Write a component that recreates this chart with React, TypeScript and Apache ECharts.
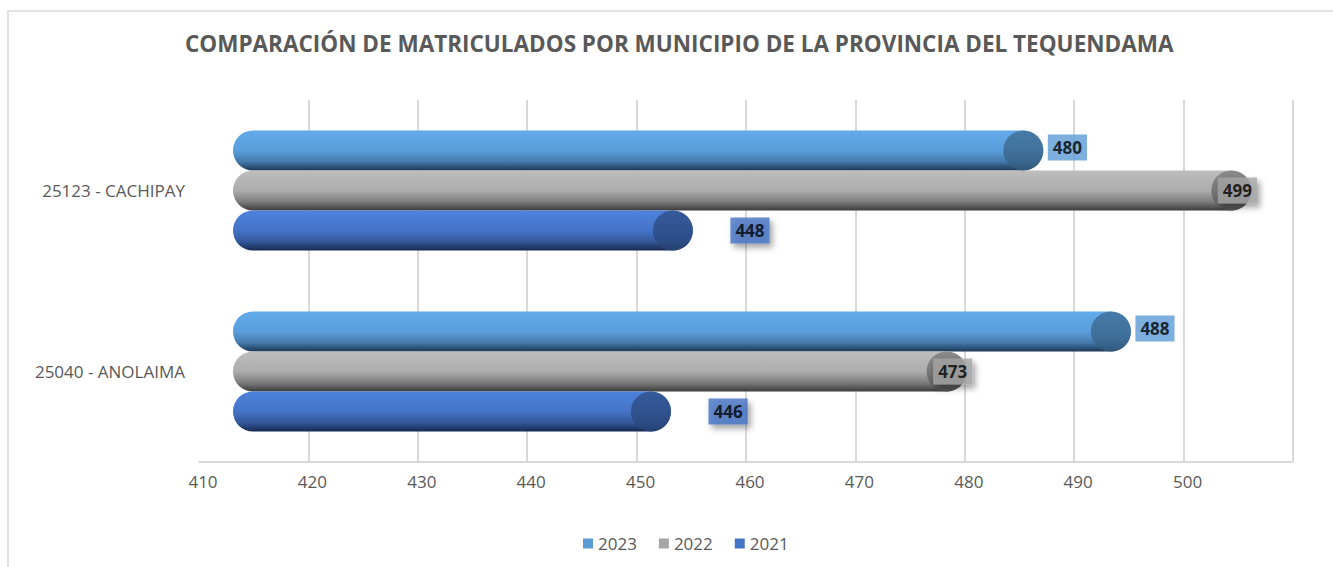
import React, { useEffect, useRef } from "react";
import * as echarts from "echarts";

const categories = ["25040 - ANOLAIMA", "25123 - CACHIPAY"];
const years = ["2023", "2022", "2021"];
const values2023 = [488, 480];
const values2022 = [473, 499];
const values2021 = [446, 448];
const tickLabels = [410, 420, 430, 440, 450, 460, 470, 480, 490, 500];

const TITLE = "COMPARACIÓN DE MATRICULADOS POR MUNICIPIO DE LA PROVINCIA DEL TEQUENDAMA";
const FONT = "'Open Sans', 'Noto Sans', sans-serif";

const mainColors = ["#5B9BD5", "#A5A5A5", "#4472C4"];
const barStops = [
  [[0, "#62aaea"], [0.5, "#5a9fdc"], [0.78, "#4479ab"], [1, "#1e3856"]],
  [[0, "#bdbdbd"], [0.5, "#adadad"], [0.78, "#7c7c7c"], [1, "#3c3c3c"]],
  [[0, "#4d82dc"], [0.5, "#4573c6"], [0.78, "#33579a"], [1, "#162a4e"]],
];
const capStops = [
  [[0, "#3f6e96"], [1, "#355f84"]],
  [[0, "#7e7e7e"], [1, "#575757"]],
  [[0, "#2f5089"], [1, "#28467a"]],
];
const bandOffsets = [-40, 0, 40];
const labelOffsets = [[4, -3], [-34, 0], [37, 0]];

function grad(stops: any[]) {
  return new echarts.graphic.LinearGradient(
    0, 0, 0, 1,
    stops.map((s: any) => ({ offset: s[0], color: s[1] }))
  );
}

export default function App() {
  const ref = useRef<HTMLDivElement>(null);
  useEffect(() => {
    document.body.style.margin = "0";
    const chart = echarts.init(ref.current!, null, { renderer: "svg" });
    const seriesValues = [values2023, values2022, values2021];
    const barSeries = years.map((y, i) => ({
      name: y,
      type: "bar",
      xAxisIndex: 1,
      yAxisIndex: 1,
      barWidth: 40,
      barGap: "0%",
      data: seriesValues[i],
      itemStyle: { color: grad(barStops[i]), borderRadius: 20 },
      z: 2,
    }));
    const capSeries = years.map((y, i) => ({
      name: y,
      type: "scatter",
      xAxisIndex: 1,
      yAxisIndex: 1,
      symbol: "circle",
      symbolSize: 40,
      symbolOffset: [-20, bandOffsets[i]],
      data: seriesValues[i],
      itemStyle: { color: grad(capStops[i]) },
      silent: true,
      z: 3,
    }));
    const labelSeries = years.map((y, i) => ({
      name: y,
      type: "scatter",
      xAxisIndex: 1,
      yAxisIndex: 1,
      symbolSize: 1,
      data: seriesValues[i],
      itemStyle: { color: "rgba(0,0,0,0)" },
      silent: true,
      z: 4,
      label: {
        show: true,
        position: "right",
        distance: 0,
        offset: [labelOffsets[i][0], bandOffsets[i] + labelOffsets[i][1]],
        formatter: "{c}",
        backgroundColor: mainColors[i],
        color: "#000",
        fontWeight: "bold",
        fontSize: 17,
        lineHeight: 20,
        fontFamily: FONT,
        padding: [3, 5, 3, 5],
        ...(i > 0
          ? { shadowColor: "rgba(0,0,0,0.45)", shadowBlur: 6, shadowOffsetX: 3, shadowOffsetY: 4 }
          : {}),
      },
    }));
    chart.setOption({
      animation: false,
      backgroundColor: "#fff",
      textStyle: { fontFamily: FONT },
      title: {
        text: TITLE,
        left: 180,
        top: 27,
        textStyle: { fontSize: 22.5, fontWeight: "bold", color: "#595959", fontFamily: FONT },
      },
      legend: {
        bottom: 10,
        left: 578,
        icon: "rect",
        itemWidth: 10,
        itemHeight: 10,
        itemGap: 22,
        textStyle: { fontSize: 17, color: "#595959", fontFamily: FONT },
        data: years.map((y, i) => ({ name: y, itemStyle: { color: mainColors[i] } })),
      },
      grid: [
        { left: 199, right: 40, top: 100, bottom: 105 },
        { left: 233, right: 5, top: 100, bottom: 105 },
      ],
      xAxis: [
        {
          gridIndex: 0,
          type: "value",
          min: 410,
          max: 510,
          interval: 10,
          axisLine: { show: true, lineStyle: { color: "#d9d9d9", width: 2 } },
          axisTick: { show: false },
          axisLabel: {
            color: "#595959",
            fontSize: 17,
            margin: 11,
            padding: [0, 0, 0, 8],
            fontFamily: FONT,
            formatter: (v: number) => (tickLabels.indexOf(v) >= 0 ? String(v) : ""),
          },
          splitLine: {
            show: true,
            lineStyle: {
              color: ["rgba(0,0,0,0)", "#d9d9d9", "#d9d9d9", "#d9d9d9", "#d9d9d9", "#d9d9d9", "#d9d9d9", "#d9d9d9", "#d9d9d9", "#d9d9d9", "#d9d9d9"],
              width: 2,
            },
          },
        },
        { gridIndex: 1, type: "value", min: 406, max: 506, show: false, splitLine: { show: false } },
      ],
      yAxis: [
        {
          gridIndex: 0,
          type: "category",
          data: categories,
          axisLine: { show: false },
          axisTick: { show: false },
          axisLabel: { color: "#595959", fontSize: 17, margin: 14, fontFamily: FONT },
        },
        { gridIndex: 1, type: "category", data: categories, show: false },
      ],
      graphic: [
        {
          type: "rect",
          shape: { x: 8, y: 11, width: 1400, height: 700 },
          style: { fill: "none", stroke: "#d9d9d9", lineWidth: 1.5 },
          silent: true,
          z: -1,
        },
      ],
      series: [...barSeries, ...capSeries, ...labelSeries],
    });
    return () => chart.dispose();
  }, []);
  return <div ref={ref} style={{ width: 1333, height: 567 }} />;
}
